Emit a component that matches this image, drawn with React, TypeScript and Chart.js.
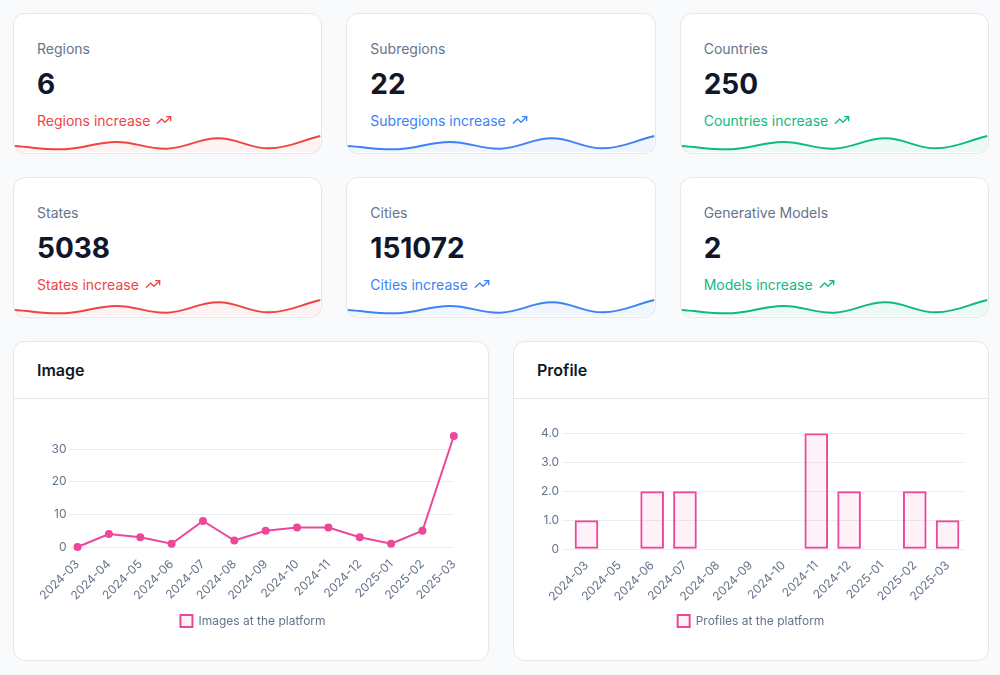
import React, { useEffect, useLayoutEffect, useRef } from 'react';
import { Chart, registerables } from 'chart.js';

Chart.register(...registerables);
Chart.defaults.font.family = 'Inter, "Noto Sans", sans-serif';

// ---- data ----
const statTitles = ['Regions', 'Subregions', 'Countries', 'States', 'Cities', 'Generative Models'];
const statValues = ['6', '22', '250', '5038', '151072', '2'];
const statNotes = [
  'Regions increase',
  'Subregions increase',
  'Countries increase',
  'States increase',
  'Cities increase',
  'Models increase',
];
const sparkValues = [2.1, 1.0, 3.6, 1.2, 4.9, 1.3, 5.7];

const imageLabels = [
  '2024-03', '2024-04', '2024-05', '2024-06', '2024-07', '2024-08', '2024-09',
  '2024-10', '2024-11', '2024-12', '2025-01', '2025-02', '2025-03',
];
const imageValues = [0, 4, 3, 1, 8, 2, 5, 6, 6, 3, 1, 5, 34];

const profileLabels = [
  '2024-03', '2024-05', '2024-06', '2024-07', '2024-08', '2024-09',
  '2024-10', '2024-11', '2024-12', '2025-01', '2025-02', '2025-03',
];
const profileValues = [1, 0, 2, 2, 0, 0, 0, 4, 2, 0, 2, 1];

// ---- styles ----
const PALETTE = [
  { line: '#ef4444', fill: 'rgba(239,68,68,0.07)', text: '#ef4444' },
  { line: '#3b82f6', fill: 'rgba(59,130,246,0.07)', text: '#3b82f6' },
  { line: '#10b981', fill: 'rgba(16,185,129,0.08)', text: '#10b981' },
];
const PINK = '#ec4899';
const PINK_FILL = 'rgba(236,72,153,0.08)';
const TICK = '#64748b';
const GRID = '#e9eef4';

function TrendIcon({ color }: { color: string }) {
  return (
    <svg width="16" height="16" viewBox="0 0 24 24" fill="none" stroke={color} strokeWidth="2"
      strokeLinecap="round" strokeLinejoin="round" style={{ marginLeft: 6, verticalAlign: '-2px' }}>
      <polyline points="22 7 13.5 15.5 8.5 10.5 2 17" />
      <polyline points="16 7 22 7 22 13" />
    </svg>
  );
}

function Sparkline({ line, fill }: { line: string; fill: string }) {
  const ref = useRef<HTMLCanvasElement>(null);
  useEffect(() => {
    const chart = new Chart(ref.current!, {
      type: 'line',
      data: {
        labels: sparkValues.map((_, i) => String(i)),
        datasets: [{
          data: sparkValues,
          borderColor: line,
          backgroundColor: fill,
          borderWidth: 2,
          fill: 'start',
          tension: 0.4,
          pointRadius: 0,
        }],
      },
      options: {
        animation: false,
        responsive: true,
        maintainAspectRatio: false,
        layout: { padding: 0 },
        plugins: { legend: { display: false }, tooltip: { enabled: false } },
        scales: {
          x: { display: false },
          y: { display: false, min: 0, max: 10 },
        },
      },
    });
    return () => chart.destroy();
  }, [line, fill]);
  return (
    <div style={{ position: 'absolute', left: -1, right: 0, bottom: 0, height: 30 }}>
      <canvas ref={ref} />
    </div>
  );
}

function StatCard({ i }: { i: number }) {
  const p = PALETTE[i % 3];
  return (
    <div style={{
      position: 'relative', height: 141, background: '#fff', border: '1px solid #e5e7eb',
      borderRadius: 12, overflow: 'hidden', boxSizing: 'border-box',
    }}>
      <div style={{ position: 'absolute', left: 23, top: 25, fontSize: 14, lineHeight: '20px', color: '#64748b' }}>
        {statTitles[i]}
      </div>
      <div style={{ position: 'absolute', left: 23, top: 52, fontSize: 28, lineHeight: '36px', fontWeight: 700, color: '#0f172a' }}>
        {statValues[i]}
      </div>
      <div style={{ position: 'absolute', left: 23, top: 97, fontSize: 14, lineHeight: '20px', color: p.text }}>
        {statNotes[i]}<TrendIcon color={p.text} />
      </div>
      <Sparkline line={p.line} fill={p.fill} />
    </div>
  );
}

const axisFont = { size: 12, family: 'Inter' };

function ImageChart() {
  const ref = useRef<HTMLCanvasElement>(null);
  useEffect(() => {
    const chart = new Chart(ref.current!, {
      type: 'line',
      data: {
        labels: imageLabels,
        datasets: [{
          label: 'Images at the platform',
          data: imageValues,
          borderColor: PINK,
          backgroundColor: PINK_FILL,
          pointBackgroundColor: PINK,
          pointBorderColor: PINK,
          borderWidth: 2,
          pointRadius: 3,
          tension: 0,
          fill: false,
          clip: false as any,
        }],
      },
      options: {
        animation: false,
        responsive: true,
        maintainAspectRatio: false,
        layout: { padding: { top: 13 } },
        plugins: {
          legend: {
            position: 'bottom',
            labels: { boxWidth: 12, boxHeight: 12, color: TICK, font: axisFont },
          },
          tooltip: { enabled: false },
        },
        scales: {
          x: {
            grid: { display: false },
            border: { display: false },
            ticks: { color: TICK, font: axisFont, minRotation: 45, maxRotation: 45, padding: 2 },
          },
          y: {
            min: 0,
            max: 34,
            border: { display: false },
            grid: { color: GRID },
            ticks: { color: TICK, font: axisFont, stepSize: 10 },
            afterBuildTicks: (scale: any) => {
              scale.ticks = scale.ticks.filter((t: any) => t.value % 10 === 0);
            },
          },
        },
      },
    });
    return () => chart.destroy();
  }, []);
  return <canvas ref={ref} />;
}

function ProfileChart() {
  const ref = useRef<HTMLCanvasElement>(null);
  useEffect(() => {
    const chart = new Chart(ref.current!, {
      type: 'bar',
      data: {
        labels: profileLabels,
        datasets: [{
          label: 'Profiles at the platform',
          data: profileValues,
          borderColor: PINK,
          backgroundColor: PINK_FILL,
          borderWidth: 2,
          borderSkipped: false,
        }],
      },
      options: {
        animation: false,
        responsive: true,
        maintainAspectRatio: false,
        layout: { padding: { top: 4 } },
        plugins: {
          legend: {
            position: 'bottom',
            labels: { boxWidth: 12, boxHeight: 12, color: TICK, font: axisFont },
          },
          tooltip: { enabled: false },
        },
        scales: {
          x: {
            grid: { display: false },
            border: { display: false },
            ticks: { color: TICK, font: axisFont, minRotation: 45, maxRotation: 45, padding: 1 },
          },
          y: {
            min: 0,
            max: 4,
            border: { display: false },
            grid: { color: GRID },
            ticks: {
              color: TICK, font: axisFont, stepSize: 1,
              callback: (v: any) => (Number(v) === 0 ? '0' : Number(v).toFixed(1)),
            },
          },
        },
      },
    });
    return () => chart.destroy();
  }, []);
  return <canvas ref={ref} />;
}

function ChartCard({ title, left, children }: { title: string; left: number; children: React.ReactNode }) {
  return (
    <div style={{
      height: 320, background: '#fff', border: '1px solid #e5e7eb', borderRadius: 12,
      boxSizing: 'border-box', overflow: 'hidden',
    }}>
      <div style={{
        height: 57, boxSizing: 'border-box', borderBottom: '1px solid #e2e8f0',
        padding: '0 23px', display: 'flex', alignItems: 'center',
        fontSize: 16, fontWeight: 600, color: '#0f172a',
      }}>
        {title}
      </div>
      <div style={{ position: 'relative', height: 214, margin: `24px ${48 - left}px 0 ${left}px` }}>
        {children}
      </div>
    </div>
  );
}

export default function App() {
  useLayoutEffect(() => {
    document.body.style.margin = '0';
    document.body.style.background = '#f8fafc';
  }, []);
  return (
    <div style={{
      width: 976, padding: '13px 0 0 13px', fontFamily: 'Inter, "Noto Sans", sans-serif',
      background: '#f8fafc', minHeight: 675, boxSizing: 'border-box',
    }}>
      <div style={{ display: 'grid', gridTemplateColumns: 'repeat(3, 1fr)', gap: '23px 24px', width: 976 }}>
        {statTitles.map((_, i) => <StatCard key={i} i={i} />)}
      </div>
      <div style={{ display: 'grid', gridTemplateColumns: 'repeat(2, 1fr)', gap: 24, width: 976, marginTop: 23 }}>
        <ChartCard title="Image" left={26}><ImageChart /></ChartCard>
        <ChartCard title="Profile" left={24}><ProfileChart /></ChartCard>
      </div>
    </div>
  );
}
